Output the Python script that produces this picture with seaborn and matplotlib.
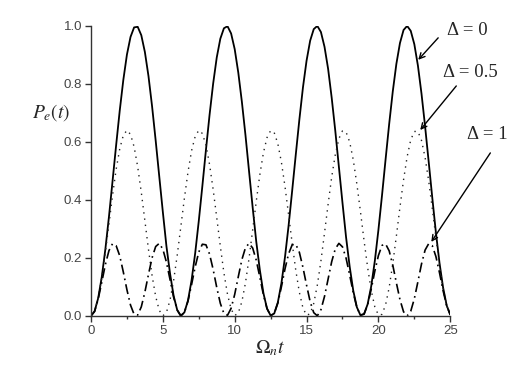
import numpy as np
import pandas as pd
import seaborn as sns
import matplotlib.pyplot as plt

# time axis Omega_n t, read every 0.25 from 0 to 25
t = [0.25 * k for k in range(101)]

# Delta = 0 (solid)
p_d0 = [0.000, 0.016, 0.061, 0.134, 0.230, 0.342, 0.465, 0.589, 0.708, 0.814,
        0.901, 0.962, 0.995, 0.997, 0.968, 0.910, 0.827, 0.723, 0.605, 0.481,
        0.358, 0.240, 0.146, 0.069, 0.020, 0.000, 0.012, 0.053, 0.123, 0.216,
        0.327, 0.448, 0.573, 0.693, 0.801, 0.891, 0.956, 0.992, 0.999, 0.974,
        0.920, 0.839, 0.738, 0.623, 0.498, 0.374, 0.256, 0.158, 0.078, 0.025,
        0.001, 0.008, 0.046, 0.112, 0.203, 0.311, 0.432, 0.556, 0.677, 0.788,
        0.880, 0.949, 0.989, 1.000, 0.979, 0.928, 0.852, 0.752, 0.638, 0.514,
        0.390, 0.271, 0.170, 0.087, 0.030, 0.002, 0.006, 0.040, 0.102, 0.189,
        0.296, 0.415, 0.540, 0.662, 0.774, 0.869, 0.941, 0.986, 1.000, 0.983,
        0.937, 0.863, 0.766, 0.653, 0.531, 0.407, 0.288, 0.183, 0.098, 0.036,
        0.004]

# Delta = 0.5 (dotted)
p_d05 = [0.000, 0.016, 0.061, 0.131, 0.219, 0.317, 0.416, 0.505, 0.576, 0.623,
         0.640, 0.626, 0.583, 0.514, 0.426, 0.328, 0.229, 0.139, 0.067, 0.019,
         0.000, 0.012, 0.054, 0.122, 0.209, 0.307, 0.406, 0.496, 0.570, 0.619,
         0.640, 0.629, 0.589, 0.522, 0.436, 0.339, 0.240, 0.148, 0.074, 0.023,
         0.001, 0.010, 0.049, 0.114, 0.199, 0.296, 0.395, 0.487, 0.563, 0.615,
         0.639, 0.632, 0.594, 0.530, 0.446, 0.349, 0.250, 0.157, 0.081, 0.027,
         0.002, 0.007, 0.043, 0.106, 0.189, 0.286, 0.385, 0.479, 0.556, 0.611,
         0.638, 0.634, 0.600, 0.538, 0.455, 0.360, 0.260, 0.167, 0.088, 0.031,
         0.003, 0.005, 0.038, 0.098, 0.180, 0.275, 0.375, 0.469, 0.549, 0.607,
         0.636, 0.636, 0.605, 0.546, 0.465, 0.370, 0.271, 0.176, 0.095, 0.036,
         0.004]

# Delta = 1 (dash-dot)
p_d1 = [0.000, 0.015, 0.058, 0.116, 0.177, 0.225, 0.249, 0.242, 0.207, 0.151,
        0.090, 0.037, 0.005, 0.003, 0.031, 0.082, 0.143, 0.200, 0.239, 0.250,
        0.230, 0.185, 0.125, 0.064, 0.020, 0.000, 0.012, 0.051, 0.108, 0.169,
        0.220, 0.247, 0.245, 0.213, 0.160, 0.098, 0.043, 0.008, 0.002, 0.026,
        0.074, 0.135, 0.194, 0.235, 0.250, 0.234, 0.192, 0.133, 0.072, 0.025,
        0.001, 0.008, 0.044, 0.100, 0.162, 0.214, 0.245, 0.247, 0.219, 0.167,
        0.106, 0.049, 0.011, 0.000, 0.021, 0.067, 0.127, 0.187, 0.231, 0.250,
        0.238, 0.199, 0.141, 0.080, 0.029, 0.003, 0.006, 0.038, 0.092, 0.154,
        0.208, 0.243, 0.248, 0.224, 0.175, 0.114, 0.056, 0.014, 0.000, 0.016,
        0.059, 0.118, 0.179, 0.227, 0.249, 0.242, 0.205, 0.149, 0.087, 0.035,
        0.004]

sns.set_style("ticks")
plt.rcParams['font.family'] = ['Liberation Sans', 'DejaVu Sans']
plt.rcParams['mathtext.fontset'] = 'stix'

fig = plt.figure(figsize=(5.26, 3.76), dpi=100)
ax = fig.add_axes([0.173, 0.160, 0.683, 0.771])

df = pd.DataFrame({"t": t, "d0": p_d0, "d05": p_d05, "d1": p_d1})
sns.lineplot(data=df, x="t", y="d0", ax=ax, color="black", lw=1.3)
sns.lineplot(data=df, x="t", y="d05", ax=ax, color="#222222", lw=1.0,
             linestyle=(0, (1, 3.5)))
sns.lineplot(data=df, x="t", y="d1", ax=ax, color="black", lw=1.2,
             linestyle=(0, (6, 2.5, 1, 2.5)))

ax.set_xlim(0, 25)
ax.set_ylim(0, 1.0)
ax.set_xticks([0, 5, 10, 15, 20, 25])
ax.set_xticks([2.5, 7.5, 12.5, 17.5, 22.5], minor=True)
ax.set_yticks([0.0, 0.2, 0.4, 0.6, 0.8, 1.0])
ax.set_yticklabels(["0.0", "0.2", "0.4", "0.6", "0.8", "1.0"])
ax.tick_params(axis="both", which="major", labelsize=9.5, labelcolor="#444444",
               color="#333333", length=4, width=1, pad=2.5)
ax.tick_params(axis="x", which="minor", length=2.5, width=1, color="#333333")
sns.despine(ax=ax)
for s in ["left", "bottom"]:
    ax.spines[s].set_color("#333333")
    ax.spines[s].set_linewidth(1.0)

ax.set_xlabel(r"$\Omega_n t$", fontsize=14, labelpad=1)
ax.set_ylabel("")
ax.text(-0.11, 0.70, r"$P_e(t)$", transform=ax.transAxes, fontsize=14,
        ha="center", va="center")

serif = ["Liberation Serif", "DejaVu Serif"]
labels = [("Δ = 0", (22.77, 0.883), (24.16, 0.959), (26.2, 0.983)),
          ("Δ = 0.5", (22.91, 0.641), (25.42, 0.793), (26.4, 0.841)),
          ("Δ = 1", (23.68, 0.255), (27.79, 0.562), (27.58, 0.624))]
for txt, head, tail, pos in labels:
    ax.annotate("", xy=head, xytext=tail, annotation_clip=False,
                arrowprops=dict(arrowstyle="->", color="black", lw=1.0,
                                shrinkA=0, shrinkB=0))
    ax.text(pos[0], pos[1], txt, fontsize=13.5, family=serif, ha="center",
            va="center", clip_on=False)

fig.savefig("out.png", dpi=100)
